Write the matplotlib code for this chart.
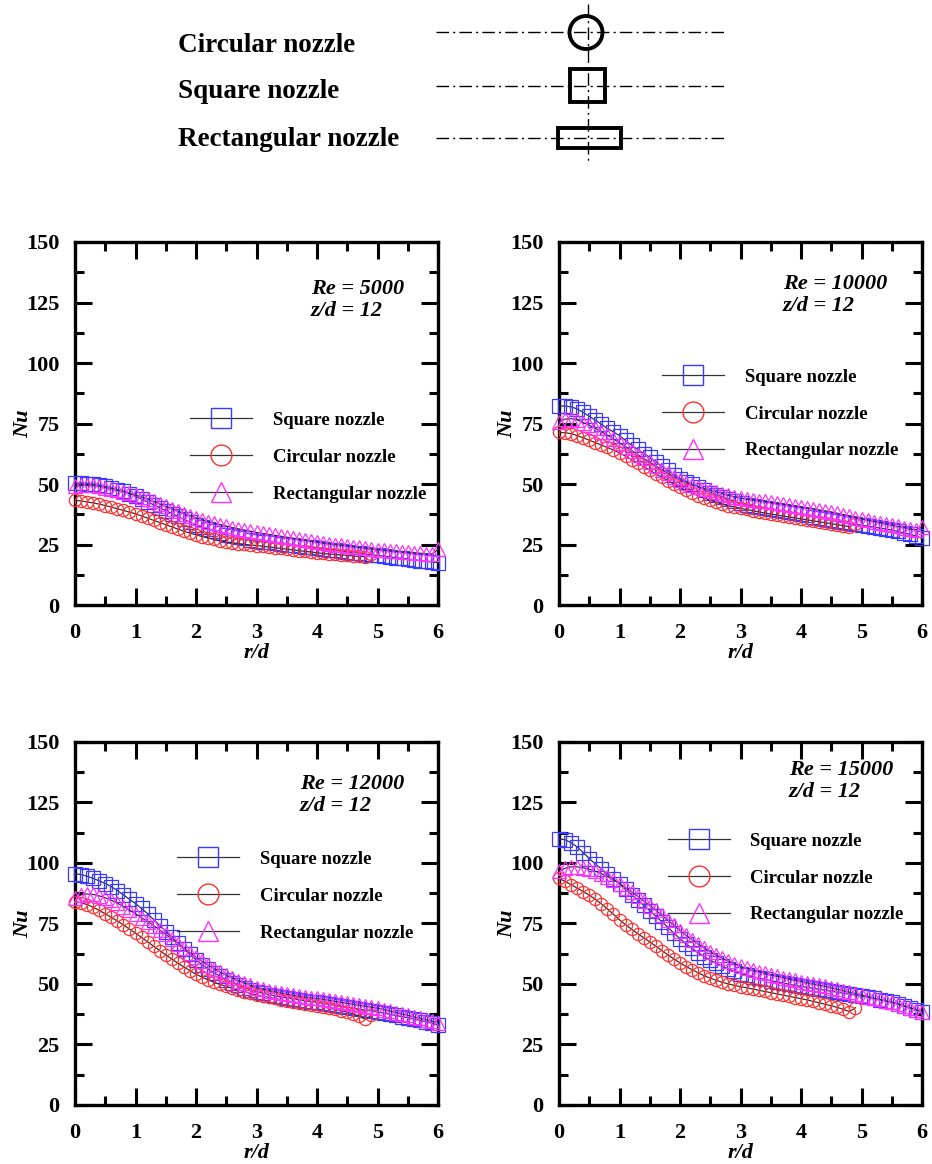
import numpy as np
import matplotlib
matplotlib.use("Agg")
import matplotlib.pyplot as plt
from matplotlib.lines import Line2D
from matplotlib.patches import Circle, Rectangle

plt.rcParams["font.family"] = ["Liberation Serif", "DejaVu Serif"]
plt.rcParams["font.weight"] = "bold"
plt.rcParams["axes.labelweight"] = "bold"

# r/d measurement grid (step 0.1); circular nozzle data stop at r/d = 4.9
R_FULL = [0.0, 0.1, 0.2, 0.3, 0.4, 0.5, 0.6, 0.7, 0.8, 0.9,
          1.0, 1.1, 1.2, 1.3, 1.4, 1.5, 1.6, 1.7, 1.8, 1.9,
          2.0, 2.1, 2.2, 2.3, 2.4, 2.5, 2.6, 2.7, 2.8, 2.9,
          3.0, 3.1, 3.2, 3.3, 3.4, 3.5, 3.6, 3.7, 3.8, 3.9,
          4.0, 4.1, 4.2, 4.3, 4.4, 4.5, 4.6, 4.7, 4.8, 4.9,
          5.0, 5.1, 5.2, 5.3, 5.4, 5.5, 5.6, 5.7, 5.8, 5.9,
          6.0]
R_CIRC = R_FULL[:50]

SERIES = ["Square nozzle", "Circular nozzle", "Rectangular nozzle"]
RE_LABELS = ["Re = 5000", "Re = 10000", "Re = 12000", "Re = 15000"]
ZD_LABEL = "z/d = 12"
X_TICKS = [0, 1, 2, 3, 4, 5, 6]
Y_TICKS = [0, 25, 50, 75, 100, 125, 150]

# ---- Re = 5000
NU_SQ_5000 = [50.5, 50.4, 50.2, 50.0, 49.5, 49.0, 48.4, 47.7, 47.0, 46.0,
              45.0, 43.8, 42.6, 41.4, 40.2, 39.0, 37.8, 36.6, 35.4, 34.2,
              33.0, 32.1, 31.3, 30.5, 29.7, 29.0, 28.5, 28.0, 27.5, 27.0,
              26.5, 26.2, 25.9, 25.6, 25.3, 25.0, 24.7, 24.4, 24.1, 23.8,
              23.5, 23.2, 22.9, 22.6, 22.3, 22.0, 21.7, 21.4, 21.1, 20.8,
              20.5, 20.2, 19.9, 19.6, 19.3, 19.0, 18.7, 18.4, 18.1, 17.8,
              17.5]
NU_CI_5000 = [43.3, 43.0, 42.6, 42.2, 41.7, 41.1, 40.5, 39.8, 39.1, 38.4,
              37.7, 36.8, 35.9, 35.0, 34.1, 33.2, 32.3, 31.4, 30.5, 29.7,
              29.0, 28.3, 27.7, 27.1, 26.6, 26.1, 25.7, 25.4, 25.1, 24.8,
              24.6, 24.3, 24.0, 23.7, 23.4, 23.1, 22.8, 22.5, 22.2, 21.9,
              21.6, 21.3, 21.1, 20.9, 20.7, 20.5, 20.3, 20.1, 20.0, 21.2]
NU_RE_5000 = [49.0, 49.5, 49.6, 49.4, 49.0, 48.5, 48.0, 47.4, 46.8, 46.2,
              45.5, 44.6, 43.7, 42.8, 41.8, 40.8, 39.8, 38.8, 37.8, 36.9,
              36.0, 35.2, 34.5, 33.8, 33.2, 32.6, 32.0, 31.5, 31.0, 30.5,
              30.0, 29.6, 29.2, 28.8, 28.4, 28.0, 27.6, 27.2, 26.8, 26.4,
              26.0, 25.6, 25.3, 25.0, 24.7, 24.4, 24.1, 23.8, 23.5, 23.2,
              22.9, 22.6, 22.4, 22.2, 22.0, 21.8, 21.6, 21.4, 21.2, 21.1,
              23.0]

# ---- Re = 10000
NU_SQ_10000 = [82.3, 82.2, 81.9, 81.0, 79.6, 78.0, 76.4, 74.7, 73.0, 71.5,
               70.0, 68.0, 66.0, 64.3, 62.6, 61.0, 59.2, 57.4, 55.6, 53.8,
               52.2, 51.0, 49.9, 48.8, 47.6, 46.5, 45.6, 44.7, 43.8, 42.9,
               42.0, 41.5, 41.0, 40.5, 40.0, 39.5, 39.1, 38.7, 38.3, 37.9,
               37.5, 37.0, 36.5, 36.0, 35.5, 35.0, 34.6, 34.2, 33.8, 33.4,
               33.0, 32.6, 32.2, 31.8, 31.4, 31.0, 30.4, 29.8, 29.2, 28.6,
               27.5]
NU_CI_10000 = [71.3, 71.2, 70.8, 70.0, 69.1, 68.1, 67.1, 66.1, 65.1, 64.0,
               62.9, 61.5, 60.1, 58.7, 57.2, 55.7, 54.2, 52.8, 51.4, 50.0,
               48.6, 47.4, 46.3, 45.2, 44.2, 43.3, 42.4, 41.7, 41.0, 40.5,
               40.0, 39.5, 39.0, 38.5, 38.0, 37.6, 37.2, 36.8, 36.4, 36.0,
               35.6, 35.2, 34.8, 34.4, 34.0, 33.6, 33.2, 32.8, 32.4, 33.6]
NU_RE_10000 = [75.7, 76.8, 77.0, 76.5, 75.4, 74.3, 73.0, 71.6, 70.2, 68.6,
               67.0, 65.4, 63.8, 62.2, 60.6, 59.0, 57.5, 56.0, 54.5, 53.0,
               51.6, 50.6, 49.7, 48.9, 48.1, 47.4, 46.7, 46.0, 45.3, 44.7,
               44.2, 43.8, 43.4, 43.1, 42.8, 42.5, 42.1, 41.7, 41.3, 40.9,
               40.5, 40.1, 39.7, 39.3, 38.9, 38.5, 37.9, 37.3, 36.7, 36.1,
               35.5, 35.0, 34.5, 34.0, 33.5, 33.0, 32.5, 32.0, 31.5, 31.0,
               32.3]

# ---- Re = 12000
NU_SQ_12000 = [95.6, 95.2, 94.5, 93.6, 92.6, 91.5, 90.2, 88.6, 86.8, 85.0,
               83.2, 81.2, 79.0, 76.6, 74.1, 71.6, 69.2, 66.8, 64.5, 62.2,
               60.0, 58.0, 56.2, 54.6, 53.1, 51.8, 50.6, 49.5, 48.5, 47.6,
               46.8, 46.2, 45.6, 45.1, 44.6, 44.2, 43.8, 43.4, 43.0, 42.7,
               42.4, 42.0, 41.6, 41.2, 40.8, 40.4, 40.0, 39.6, 39.2, 38.8,
               38.4, 38.0, 37.5, 37.0, 36.5, 36.0, 35.5, 35.0, 34.4, 33.8,
               33.0]
NU_CI_12000 = [84.0, 83.6, 82.8, 81.7, 80.4, 79.0, 77.5, 76.0, 74.4, 72.7,
               71.0, 69.2, 67.4, 65.6, 63.8, 62.0, 60.3, 58.6, 57.0, 55.5,
               54.0, 52.8, 51.7, 50.7, 49.8, 49.0, 48.2, 47.5, 46.8, 46.1,
               45.5, 45.0, 44.5, 44.0, 43.5, 43.0, 42.6, 42.2, 41.8, 41.4,
               41.0, 40.5, 40.0, 39.5, 39.0, 38.4, 37.6, 36.6, 35.4, 37.0]
NU_RE_12000 = [85.5, 86.8, 87.2, 87.0, 86.4, 85.6, 84.6, 83.4, 82.0, 80.5,
               79.0, 77.4, 75.8, 74.1, 72.3, 70.5, 68.6, 66.7, 64.8, 62.9,
               61.1, 59.4, 57.8, 56.3, 54.9, 53.6, 52.5, 51.4, 50.4, 49.4,
               48.5, 47.9, 47.3, 46.8, 46.3, 45.8, 45.4, 45.0, 44.6, 44.3,
               44.0, 43.6, 43.2, 42.8, 42.4, 42.0, 41.6, 41.2, 40.8, 40.4,
               40.0, 39.4, 38.8, 38.2, 37.6, 37.0, 36.4, 35.8, 35.2, 34.6,
               34.0]

# ---- Re = 15000
NU_SQ_15000 = [110.0, 109.6, 108.4, 106.6, 104.3, 101.8, 99.6, 97.5, 95.5, 93.4,
               91.3, 89.1, 86.9, 84.7, 82.5, 80.3, 78.0, 75.7, 73.4, 71.0,
               68.7, 66.6, 64.7, 62.9, 61.3, 59.8, 58.5, 57.3, 56.2, 55.2,
               54.3, 53.6, 53.0, 52.4, 51.9, 51.4, 50.9, 50.4, 49.9, 49.4,
               49.0, 48.6, 48.2, 47.8, 47.4, 47.0, 46.6, 46.2, 45.8, 45.4,
               45.0, 44.5, 44.0, 43.5, 43.0, 42.5, 41.8, 41.0, 40.2, 39.4,
               38.5]
NU_CI_15000 = [93.6, 92.4, 91.0, 89.6, 88.2, 86.7, 85.0, 83.1, 81.0, 78.8,
               76.5, 74.5, 72.6, 70.8, 69.1, 67.4, 65.6, 63.8, 62.0, 60.3,
               58.7, 57.2, 55.9, 54.6, 53.4, 52.4, 51.5, 50.7, 50.0, 49.4,
               48.9, 48.4, 47.9, 47.4, 46.9, 46.4, 45.9, 45.4, 44.9, 44.4,
               43.9, 43.4, 42.8, 42.2, 41.6, 41.0, 40.3, 39.5, 38.6, 40.2]
NU_RE_15000 = [96.5, 97.8, 98.4, 98.4, 98.0, 97.4, 96.6, 95.6, 94.4, 93.0,
               91.5, 89.8, 88.0, 86.2, 84.3, 82.4, 80.4, 78.4, 76.3, 74.2,
               72.0, 70.1, 68.3, 66.6, 64.9, 63.3, 61.9, 60.6, 59.4, 58.3,
               57.3, 56.5, 55.8, 55.1, 54.4, 53.8, 53.2, 52.6, 52.0, 51.5,
               51.0, 50.5, 50.0, 49.5, 49.0, 48.4, 47.8, 47.2, 46.6, 46.0,
               45.4, 44.8, 44.2, 43.6, 43.0, 42.4, 41.7, 40.9, 40.1, 39.3,
               38.5]

PANELS = [
    (RE_LABELS[0], NU_SQ_5000, NU_CI_5000, NU_RE_5000),
    (RE_LABELS[1], NU_SQ_10000, NU_CI_10000, NU_RE_10000),
    (RE_LABELS[2], NU_SQ_12000, NU_CI_12000, NU_RE_12000),
    (RE_LABELS[3], NU_SQ_15000, NU_CI_15000, NU_RE_15000),
]

# layout (figure fractions) and per-panel text/legend anchors
AX_RECTS = [[0.0805, 0.4802, 0.3895, 0.3119], [0.5998, 0.4802, 0.3895, 0.3119],
            [0.0805, 0.0507, 0.3895, 0.3119], [0.5998, 0.0507, 0.3895, 0.3119]]
ANNOT_XY = [(3.9, 126), (3.7, 128), (3.72, 128), (3.8, 134)]
LEG_ANCHOR = [(0.317, 0.532), (0.284, 0.651), (0.282, 0.700), (0.300, 0.750)]

BLUE, RED, MAG = "#3a3aff", "#ff3030", "#ff30ff"
LINE_C = "#333333"
STYLES = [("s", BLUE, 9.5), ("o", RED, 8.8), ("^", MAG, 9.5)]

fig = plt.figure(figsize=(9.32, 11.64), dpi=100)

# ---- nozzle sketch at the top (pixel coordinates)
ax0 = fig.add_axes([0, 0, 1, 1])
ax0.set_xlim(0, 932)
ax0.set_ylim(1164, 0)
ax0.axis("off")
dashdot = (0, (9, 3, 1.5, 3))
for y in (32, 86, 138):
    ax0.plot([436, 724], [y, y], color="black", lw=1.0, ls=dashdot)
ax0.plot([588, 588], [4, 163], color="black", lw=1.0, ls=dashdot)
ax0.add_patch(Circle((586, 32.5), 16.5, fill=False, lw=2.8, ec="black"))
ax0.add_patch(Rectangle((570, 69), 35, 33, fill=False, lw=2.8, ec="black"))
ax0.add_patch(Rectangle((558, 128), 63, 20, fill=False, lw=2.8, ec="black"))
for y, name in zip((45, 91, 139), ["Circular nozzle", "Square nozzle", "Rectangular nozzle"]):
    ax0.text(178, y, name, fontsize=19.5, fontweight="bold", ha="left", va="center")

# ---- the four Nu profiles
for k, (re_lbl, nu_sq, nu_ci, nu_re) in enumerate(PANELS):
    ax = fig.add_axes(AX_RECTS[k])
    for (mk, col, ms), xs, ys in zip(STYLES, [R_FULL, R_CIRC, R_FULL], [nu_sq, nu_ci, nu_re]):
        ax.plot(xs, ys, color=LINE_C, lw=0.9, marker=mk, ms=ms, mfc="none",
                mec=col, mew=0.9, clip_on=False, zorder=3)
    ax.set_xlim(0, 6)
    ax.set_ylim(0, 150)
    ax.set_xticks(X_TICKS)
    ax.set_yticks(Y_TICKS)
    ax.set_xticks([0.5, 1.5, 2.5, 3.5, 4.5, 5.5], minor=True)
    ax.set_yticks([12.5, 37.5, 62.5, 87.5, 112.5, 137.5], minor=True)
    ax.tick_params(which="both", direction="in", top=True, right=True, width=2.2)
    ax.tick_params(which="major", length=12, labelsize=16)
    ax.tick_params(which="minor", length=6.5)
    ax.tick_params(axis="x", which="major", pad=13)
    ax.tick_params(axis="y", which="major", pad=11)
    for sp in ax.spines.values():
        sp.set_linewidth(2.4)
    ax.set_xlabel("r/d", fontsize=16, fontstyle="italic", fontweight="bold", labelpad=0)
    ax.set_ylabel("Nu", fontsize=16, fontstyle="italic", fontweight="bold")
    ax.yaxis.set_label_coords(-0.115, 0.5)
    ax.text(ANNOT_XY[k][0], ANNOT_XY[k][1], re_lbl + "\n" + ZD_LABEL, fontsize=16,
            fontstyle="italic", fontweight="bold", ha="left", va="center", linespacing=1.15)
    handles = [Line2D([], [], color=LINE_C, lw=0.9, marker=mk, ms=15, mfc="none",
                      mec=col, mew=1.0) for mk, col, _ in STYLES]
    ax.legend(handles, SERIES, loc="upper left", bbox_to_anchor=LEG_ANCHOR[k],
              frameon=False, fontsize=13.5, handlelength=3.3, handletextpad=1.1,
              labelspacing=1.05, borderpad=0, borderaxespad=0, numpoints=1)

fig.savefig("out.png", dpi=100)
